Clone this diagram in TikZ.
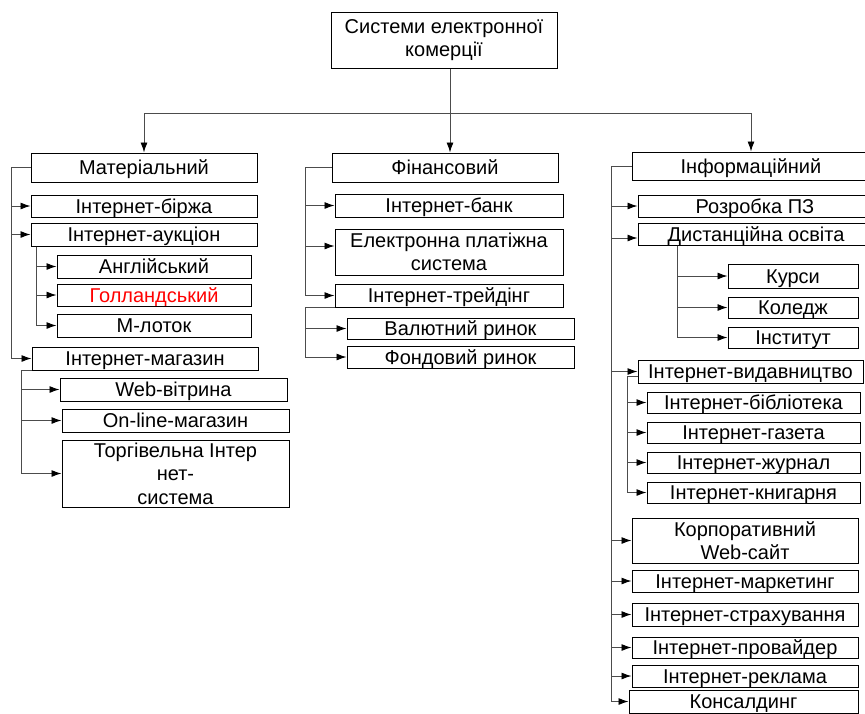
\documentclass[tikz,border=0pt]{standalone}
\usepackage{fontspec}
\setmainfont{Liberation Sans}
\usetikzlibrary{arrows.meta}

\begin{document}
\begin{tikzpicture}[x=1pt,y=-1pt,
  every node/.style={font={\fontsize{20}{23.5}\selectfont}},
  frame/.style={draw,line width=1pt,inner sep=0pt,align=center},
  box/.style 2 args={frame,text height=14.3pt,text depth=0pt,minimum width=#1pt,minimum height=#2pt},
  tallbox/.style 2 args={frame,minimum width=#1pt,minimum height=#2pt},
  line/.style={draw=black!70,line width=0.9pt},
  arr/.style={line,-{Latex[length=10pt,width=7pt,black]}}]
  \clip (0,0) rectangle (865,713);

  \node[tallbox={226}{56}] (root) at (444,40) {Системи електронної\\комерції};

  \node[box={226}{29}] (mat) at (144,167.5) {Матеріальний};
  \node[box={226}{22}] (birzha) at (144,206) {Інтернет-біржа};
  \node[box={226}{23}] (auk) at (144,234.5) {Інтернет-аукціон};
  \node[box={194}{23}] (angl) at (154,266.5) {Англійський};
  \node[box={194}{22},text=red] (goll) at (154,295) {Голландський};
  \node[box={194}{23}] (mlotok) at (154,325.5) {М-лоток};
  \node[box={226}{23}] (mag) at (145,358.5) {Інтернет-магазин};
  \node[box={227}{23}] (web) at (173.5,389.5) {Web-вітрина};
  \node[box={227}{23}] (online) at (175.5,420.5) {On-line-магазин};
  \node[tallbox={227}{67}] (torg) at (175.5,473.5) {Торгівельна Інтер\\нет-\\система};

  \node[box={226}{29}] (fin) at (445,167.5) {Фінансовий};
  \node[box={228}{23}] (bank) at (449,205.5) {Інтернет-банк};
  \node[tallbox={228}{46}] (eps) at (449,252) {Електронна платіжна\\система};
  \node[box={228}{23}] (treid) at (449,295.5) {Інтернет-трейдінг};
  \node[box={227}{21}] (val) at (460.5,328.5) {Валютний ринок};
  \node[box={227}{22}] (fond) at (460.5,357) {Фондовий ринок};

  \node[box={238}{28}] (inf) at (751,166) {Інформаційний};
  \node[box={234}{22}] (rozr) at (755,206) {Розробка ПЗ};
  \node[box={236}{22}] (osv) at (756,234) {Дистанційна освіта};
  \node[box={130}{24}] (kursy) at (793,276) {Курси};
  \node[box={130}{21}] (koledzh) at (793,307.5) {Коледж};
  \node[box={130}{21}] (inst) at (793,337.5) {Інститут};
  \node[box={225}{23}] (vyd) at (750.5,371.5) {Інтернет-видавництво};
  \node[box={213}{21}] (bibl) at (753.5,402.5) {Інтернет-бібліотека};
  \node[box={213}{21}] (gaz) at (753.5,432.5) {Інтернет-газета};
  \node[box={213}{21}] (zhurn) at (753.5,462.5) {Інтернет-журнал};
  \node[box={213}{21}] (knyh) at (753.5,492.5) {Інтернет-книгарня};
  \node[tallbox={226}{45}] (korp) at (745,540.5) {Корпоративний\\Web-сайт};
  \node[box={226}{22}] (mark) at (745,581) {Інтернет-маркетинг};
  \node[box={226}{23}] (strakh) at (745,614.5) {Інтернет-страхування};
  \node[box={226}{21}] (prov) at (745,647.5) {Інтернет-провайдер};
  \node[box={226}{22}] (rekl) at (745,676) {Інтернет-реклама};
  \node[box={229}{23}] (kons) at (743.5,701.5) {Консалдинг};

  \coordinate (split) at (450,113);
  \draw[line] (root.south -| split) -- (split);
  \draw[arr] (split) -| (mat.north);
  \draw[arr] (split) -- (split |- fin.north);
  \draw[arr] (split) -| (inf.north);

  \draw[arr] (mat.west) -- ++(-19,0) |- (birzha.west);
  \draw[arr] (mat.west) -- ++(-19,0) |- (auk.west);
  \draw[arr] (mat.west) -- ++(-19,0) |- (mag.west);
  \draw[arr] ([xshift=6pt]auk.south west) |- (angl.west);
  \draw[arr] ([xshift=6pt]auk.south west) |- (goll.west);
  \draw[arr] ([xshift=6pt]auk.south west) |- (mlotok.west);
  \draw[arr] (mag.south west) -- ++(-10,0) |- (web.west);
  \draw[arr] (mag.south west) -- ++(-10,0) |- (online.west);
  \draw[arr] (mag.south west) -- ++(-10,0) |- (torg.west);

  \draw[arr] (fin.west) -- ++(-26,0) |- (bank.west);
  \draw[arr] (fin.west) -- ++(-26,0) |- ([yshift=6pt]eps.west);
  \draw[arr] (fin.west) -- ++(-26,0) |- (treid.west);
  \draw[arr] (treid.south west) -- ++(-29,0) |- (val.west);
  \draw[arr] (treid.south west) -- ++(-29,0) |- (fond.west);

  \draw[arr] (inf.west) -- ++(-20,0) |- (rozr.west);
  \draw[arr] (inf.west) -- ++(-20,0) |- ([yshift=-4pt]osv.west);
  \draw[arr] ([xshift=40pt]osv.south west) |- (kursy.west);
  \draw[arr] ([xshift=40pt]osv.south west) |- (koledzh.west);
  \draw[arr] ([xshift=40pt]osv.south west) |- (inst.west);
  \draw[arr] (inf.west) -- ++(-20,0) |- (vyd.west);
  \draw[arr] ([yshift=-5pt]vyd.west) -- ++(-10,0) |- (bibl.west);
  \draw[arr] ([yshift=-5pt]vyd.west) -- ++(-10,0) |- (gaz.west);
  \draw[arr] ([yshift=-5pt]vyd.west) -- ++(-10,0) |- (zhurn.west);
  \draw[arr] ([yshift=-5pt]vyd.west) -- ++(-10,0) |- (knyh.west);
  \draw[arr] (inf.west) -- ++(-20,0) |- (korp.west);
  \draw[arr] (inf.west) -- ++(-20,0) |- (mark.west);
  \draw[arr] (inf.west) -- ++(-20,0) |- (strakh.west);
  \draw[arr] (inf.west) -- ++(-20,0) |- (prov.west);
  \draw[arr] (inf.west) -- ++(-20,0) |- (rekl.west);
  \draw[arr] (inf.west) -- ++(-20,0) |- (kons.west);
\end{tikzpicture}
\end{document}
